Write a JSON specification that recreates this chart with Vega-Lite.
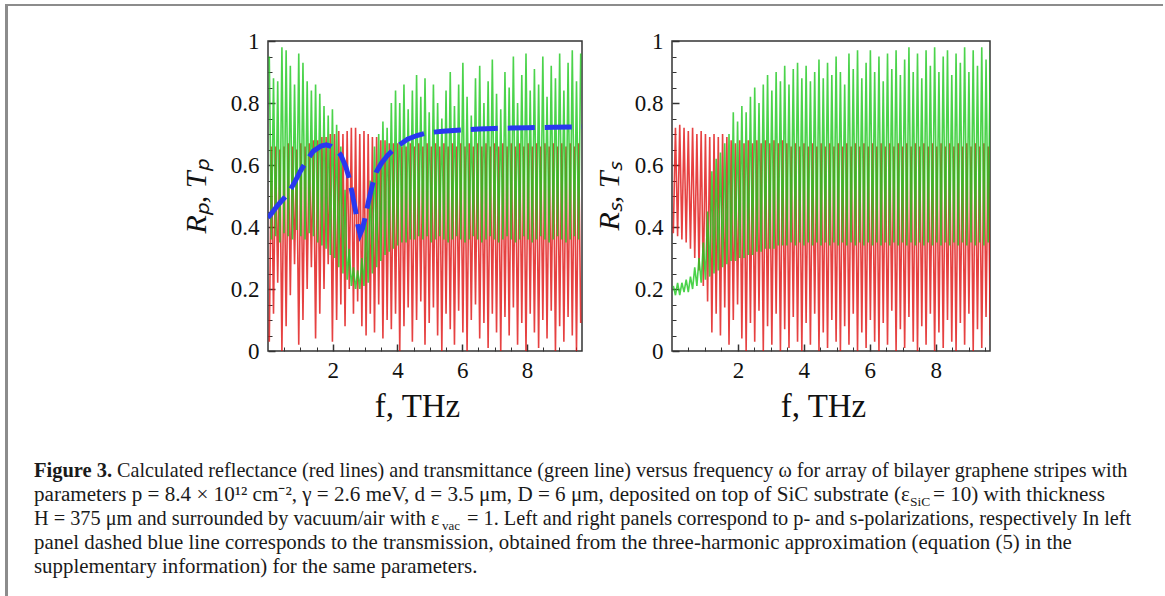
{
"$schema": "https://vega.github.io/schema/vega-lite/v6.json",
"padding": {"left": 5, "top": 4, "right": 0, "bottom": 0},
"background": "white",
"config": {"view": {"stroke": null}, "font": "Liberation Serif"},
"datasets": {
"osc": [
{"p":"L","f":0.04,"T":0.95,"R":0.03},{"p":"L","f":0.105,"T":0.36,"R":0.66},{"p":"L","f":0.17,"T":0.88,"R":0.12},{"p":"L","f":0.235,"T":0.37,"R":0.66},{"p":"L","f":0.3,"T":0.87,"R":0.22},{"p":"L","f":0.365,"T":0.35,"R":0.65},{"p":"L","f":0.43,"T":0.98,"R":0.0},{"p":"L","f":0.495,"T":0.38,"R":0.66},{"p":"L","f":0.56,"T":0.97,"R":0.08},{"p":"L","f":0.625,"T":0.37,"R":0.67},{"p":"L","f":0.69,"T":0.92,"R":0.18},{"p":"L","f":0.755,"T":0.36,"R":0.66},{"p":"L","f":0.82,"T":0.86,"R":0.28},{"p":"L","f":0.885,"T":0.39,"R":0.65},{"p":"L","f":0.95,"T":0.96,"R":0.02},{"p":"L","f":1.015,"T":0.37,"R":0.67},{"p":"L","f":1.08,"T":0.93,"R":0.1},{"p":"L","f":1.145,"T":0.36,"R":0.66},{"p":"L","f":1.21,"T":0.87,"R":0.2},{"p":"L","f":1.275,"T":0.38,"R":0.67},{"p":"L","f":1.34,"T":0.84,"R":0.27},{"p":"L","f":1.405,"T":0.37,"R":0.68},{"p":"L","f":1.47,"T":0.86,"R":0.04},{"p":"L","f":1.535,"T":0.35,"R":0.68},{"p":"L","f":1.6,"T":0.83,"R":0.12},{"p":"L","f":1.665,"T":0.34,"R":0.69},{"p":"L","f":1.73,"T":0.79,"R":0.2},{"p":"L","f":1.795,"T":0.33,"R":0.69},{"p":"L","f":1.86,"T":0.76,"R":0.28},{"p":"L","f":1.925,"T":0.31,"R":0.7},{"p":"L","f":1.99,"T":0.78,"R":0.03},{"p":"L","f":2.055,"T":0.3,"R":0.7},{"p":"L","f":2.12,"T":0.73,"R":0.1},{"p":"L","f":2.185,"T":0.27,"R":0.71},{"p":"L","f":2.25,"T":0.66,"R":0.15},{"p":"L","f":2.315,"T":0.25,"R":0.7},{"p":"L","f":2.38,"T":0.52,"R":0.08},{"p":"L","f":2.445,"T":0.23,"R":0.71},{"p":"L","f":2.51,"T":0.33,"R":0.2},{"p":"L","f":2.575,"T":0.21,"R":0.72},{"p":"L","f":2.64,"T":0.27,"R":0.12},{"p":"L","f":2.705,"T":0.2,"R":0.72},{"p":"L","f":2.77,"T":0.26,"R":0.16},{"p":"L","f":2.835,"T":0.2,"R":0.7},{"p":"L","f":2.9,"T":0.3,"R":0.08},{"p":"L","f":2.965,"T":0.21,"R":0.71},{"p":"L","f":3.03,"T":0.42,"R":0.05},{"p":"L","f":3.095,"T":0.22,"R":0.7},{"p":"L","f":3.16,"T":0.55,"R":0.12},{"p":"L","f":3.225,"T":0.25,"R":0.69},{"p":"L","f":3.29,"T":0.66,"R":0.06},{"p":"L","f":3.355,"T":0.27,"R":0.69},{"p":"L","f":3.42,"T":0.7,"R":0.15},{"p":"L","f":3.485,"T":0.29,"R":0.68},{"p":"L","f":3.55,"T":0.74,"R":0.04},{"p":"L","f":3.615,"T":0.31,"R":0.68},{"p":"L","f":3.68,"T":0.72,"R":0.1},{"p":"L","f":3.745,"T":0.32,"R":0.67},{"p":"L","f":3.81,"T":0.8,"R":0.07},{"p":"L","f":3.875,"T":0.33,"R":0.67},{"p":"L","f":3.94,"T":0.84,"R":0.12},{"p":"L","f":4.005,"T":0.34,"R":0.67},{"p":"L","f":4.07,"T":0.8,"R":0.0},{"p":"L","f":4.135,"T":0.35,"R":0.66},{"p":"L","f":4.2,"T":0.86,"R":0.08},{"p":"L","f":4.265,"T":0.35,"R":0.66},{"p":"L","f":4.33,"T":0.78,"R":0.14},{"p":"L","f":4.395,"T":0.36,"R":0.67},{"p":"L","f":4.46,"T":0.84,"R":0.03},{"p":"L","f":4.525,"T":0.36,"R":0.66},{"p":"L","f":4.59,"T":0.89,"R":0.1},{"p":"L","f":4.655,"T":0.37,"R":0.67},{"p":"L","f":4.72,"T":0.82,"R":0.16},{"p":"L","f":4.785,"T":0.36,"R":0.66},{"p":"L","f":4.85,"T":0.88,"R":0.02},{"p":"L","f":4.915,"T":0.37,"R":0.67},{"p":"L","f":4.98,"T":0.77,"R":0.09},{"p":"L","f":5.045,"T":0.35,"R":0.66},{"p":"L","f":5.11,"T":0.86,"R":0.14},{"p":"L","f":5.175,"T":0.36,"R":0.67},{"p":"L","f":5.24,"T":0.8,"R":0.05},{"p":"L","f":5.305,"T":0.37,"R":0.66},{"p":"L","f":5.37,"T":0.75,"R":0.0},{"p":"L","f":5.435,"T":0.36,"R":0.67},{"p":"L","f":5.5,"T":0.84,"R":0.12},{"p":"L","f":5.565,"T":0.35,"R":0.66},{"p":"L","f":5.63,"T":0.9,"R":0.07},{"p":"L","f":5.695,"T":0.36,"R":0.67},{"p":"L","f":5.76,"T":0.79,"R":0.02},{"p":"L","f":5.825,"T":0.37,"R":0.66},{"p":"L","f":5.89,"T":0.86,"R":0.13},{"p":"L","f":5.955,"T":0.36,"R":0.67},{"p":"L","f":6.02,"T":0.93,"R":0.06},{"p":"L","f":6.085,"T":0.35,"R":0.66},{"p":"L","f":6.15,"T":0.82,"R":0.0},{"p":"L","f":6.215,"T":0.36,"R":0.67},{"p":"L","f":6.28,"T":0.76,"R":0.1},{"p":"L","f":6.345,"T":0.37,"R":0.66},{"p":"L","f":6.41,"T":0.88,"R":0.15},{"p":"L","f":6.475,"T":0.36,"R":0.67},{"p":"L","f":6.54,"T":0.92,"R":0.04},{"p":"L","f":6.605,"T":0.35,"R":0.66},{"p":"L","f":6.67,"T":0.8,"R":0.09},{"p":"L","f":6.735,"T":0.36,"R":0.67},{"p":"L","f":6.8,"T":0.87,"R":0.01},{"p":"L","f":6.865,"T":0.37,"R":0.66},{"p":"L","f":6.93,"T":0.94,"R":0.12},{"p":"L","f":6.995,"T":0.36,"R":0.67},{"p":"L","f":7.06,"T":0.83,"R":0.06},{"p":"L","f":7.125,"T":0.35,"R":0.66},{"p":"L","f":7.19,"T":0.78,"R":0.0},{"p":"L","f":7.255,"T":0.36,"R":0.67},{"p":"L","f":7.32,"T":0.9,"R":0.11},{"p":"L","f":7.385,"T":0.37,"R":0.66},{"p":"L","f":7.45,"T":0.85,"R":0.05},{"p":"L","f":7.515,"T":0.36,"R":0.67},{"p":"L","f":7.58,"T":0.95,"R":0.14},{"p":"L","f":7.645,"T":0.35,"R":0.66},{"p":"L","f":7.71,"T":0.8,"R":0.02},{"p":"L","f":7.775,"T":0.36,"R":0.67},{"p":"L","f":7.84,"T":0.89,"R":0.09},{"p":"L","f":7.905,"T":0.37,"R":0.66},{"p":"L","f":7.97,"T":0.96,"R":0.0},{"p":"L","f":8.035,"T":0.36,"R":0.67},{"p":"L","f":8.1,"T":0.84,"R":0.12},{"p":"L","f":8.165,"T":0.35,"R":0.66},{"p":"L","f":8.23,"T":0.91,"R":0.06},{"p":"L","f":8.295,"T":0.36,"R":0.67},{"p":"L","f":8.36,"T":0.86,"R":0.01},{"p":"L","f":8.425,"T":0.37,"R":0.66},{"p":"L","f":8.49,"T":0.95,"R":0.1},{"p":"L","f":8.555,"T":0.36,"R":0.67},{"p":"L","f":8.62,"T":0.82,"R":0.04},{"p":"L","f":8.685,"T":0.35,"R":0.66},{"p":"L","f":8.75,"T":0.92,"R":0.13},{"p":"L","f":8.815,"T":0.36,"R":0.67},{"p":"L","f":8.88,"T":0.88,"R":0.0},{"p":"L","f":8.945,"T":0.37,"R":0.66},{"p":"L","f":9.01,"T":0.96,"R":0.08},{"p":"L","f":9.075,"T":0.36,"R":0.67},{"p":"L","f":9.14,"T":0.84,"R":0.03},{"p":"L","f":9.205,"T":0.35,"R":0.66},{"p":"L","f":9.27,"T":0.93,"R":0.11},{"p":"L","f":9.335,"T":0.36,"R":0.67},{"p":"L","f":9.4,"T":0.97,"R":0.05},{"p":"L","f":9.465,"T":0.37,"R":0.66},{"p":"L","f":9.53,"T":0.87,"R":0.0},{"p":"L","f":9.595,"T":0.36,"R":0.67},{"p":"L","f":9.66,"T":0.96,"R":0.09},
{"p":"S","f":0.04,"T":0.21,"R":0.38},{"p":"S","f":0.105,"T":0.18,"R":0.72},{"p":"S","f":0.17,"T":0.22,"R":0.37},{"p":"S","f":0.235,"T":0.18,"R":0.73},{"p":"S","f":0.3,"T":0.22,"R":0.36},{"p":"S","f":0.365,"T":0.19,"R":0.72},{"p":"S","f":0.43,"T":0.23,"R":0.35},{"p":"S","f":0.495,"T":0.19,"R":0.71},{"p":"S","f":0.56,"T":0.24,"R":0.33},{"p":"S","f":0.625,"T":0.2,"R":0.72},{"p":"S","f":0.69,"T":0.27,"R":0.3},{"p":"S","f":0.755,"T":0.21,"R":0.7},{"p":"S","f":0.82,"T":0.3,"R":0.26},{"p":"S","f":0.885,"T":0.22,"R":0.71},{"p":"S","f":0.95,"T":0.35,"R":0.21},{"p":"S","f":1.015,"T":0.23,"R":0.7},{"p":"S","f":1.08,"T":0.45,"R":0.16},{"p":"S","f":1.145,"T":0.24,"R":0.69},{"p":"S","f":1.21,"T":0.58,"R":0.06},{"p":"S","f":1.275,"T":0.25,"R":0.7},{"p":"S","f":1.34,"T":0.62,"R":0.12},{"p":"S","f":1.405,"T":0.26,"R":0.69},{"p":"S","f":1.47,"T":0.64,"R":0.05},{"p":"S","f":1.535,"T":0.27,"R":0.7},{"p":"S","f":1.6,"T":0.67,"R":0.14},{"p":"S","f":1.665,"T":0.28,"R":0.69},{"p":"S","f":1.73,"T":0.7,"R":0.02},{"p":"S","f":1.795,"T":0.29,"R":0.68},{"p":"S","f":1.86,"T":0.77,"R":0.1},{"p":"S","f":1.925,"T":0.29,"R":0.67},{"p":"S","f":1.99,"T":0.74,"R":0.15},{"p":"S","f":2.055,"T":0.3,"R":0.68},{"p":"S","f":2.12,"T":0.79,"R":0.04},{"p":"S","f":2.185,"T":0.3,"R":0.67},{"p":"S","f":2.25,"T":0.77,"R":0.0},{"p":"S","f":2.315,"T":0.31,"R":0.68},{"p":"S","f":2.38,"T":0.82,"R":0.09},{"p":"S","f":2.445,"T":0.31,"R":0.67},{"p":"S","f":2.51,"T":0.85,"R":0.03},{"p":"S","f":2.575,"T":0.32,"R":0.68},{"p":"S","f":2.64,"T":0.8,"R":0.13},{"p":"S","f":2.705,"T":0.32,"R":0.67},{"p":"S","f":2.77,"T":0.86,"R":0.0},{"p":"S","f":2.835,"T":0.33,"R":0.68},{"p":"S","f":2.9,"T":0.89,"R":0.08},{"p":"S","f":2.965,"T":0.33,"R":0.67},{"p":"S","f":3.03,"T":0.84,"R":0.02},{"p":"S","f":3.095,"T":0.33,"R":0.68},{"p":"S","f":3.16,"T":0.9,"R":0.12},{"p":"S","f":3.225,"T":0.34,"R":0.67},{"p":"S","f":3.29,"T":0.87,"R":0.0},{"p":"S","f":3.355,"T":0.34,"R":0.68},{"p":"S","f":3.42,"T":0.92,"R":0.07},{"p":"S","f":3.485,"T":0.34,"R":0.67},{"p":"S","f":3.55,"T":0.86,"R":0.01},{"p":"S","f":3.615,"T":0.35,"R":0.66},{"p":"S","f":3.68,"T":0.91,"R":0.11},{"p":"S","f":3.745,"T":0.34,"R":0.67},{"p":"S","f":3.81,"T":0.93,"R":0.03},{"p":"S","f":3.875,"T":0.35,"R":0.66},{"p":"S","f":3.94,"T":0.88,"R":0.0},{"p":"S","f":4.005,"T":0.34,"R":0.67},{"p":"S","f":4.07,"T":0.92,"R":0.09},{"p":"S","f":4.135,"T":0.35,"R":0.66},{"p":"S","f":4.2,"T":0.87,"R":0.02},{"p":"S","f":4.265,"T":0.34,"R":0.67},{"p":"S","f":4.33,"T":0.9,"R":0.12},{"p":"S","f":4.395,"T":0.35,"R":0.66},{"p":"S","f":4.46,"T":0.94,"R":0.0},{"p":"S","f":4.525,"T":0.34,"R":0.67},{"p":"S","f":4.59,"T":0.88,"R":0.06},{"p":"S","f":4.655,"T":0.35,"R":0.66},{"p":"S","f":4.72,"T":0.93,"R":0.01},{"p":"S","f":4.785,"T":0.34,"R":0.67},{"p":"S","f":4.85,"T":0.89,"R":0.1},{"p":"S","f":4.915,"T":0.35,"R":0.66},{"p":"S","f":4.98,"T":0.95,"R":0.03},{"p":"S","f":5.045,"T":0.34,"R":0.67},{"p":"S","f":5.11,"T":0.9,"R":0.0},{"p":"S","f":5.175,"T":0.35,"R":0.66},{"p":"S","f":5.24,"T":0.86,"R":0.08},{"p":"S","f":5.305,"T":0.34,"R":0.67},{"p":"S","f":5.37,"T":0.96,"R":0.02},{"p":"S","f":5.435,"T":0.35,"R":0.66},{"p":"S","f":5.5,"T":0.91,"R":0.12},{"p":"S","f":5.565,"T":0.34,"R":0.67},{"p":"S","f":5.63,"T":0.97,"R":0.0},{"p":"S","f":5.695,"T":0.35,"R":0.66},{"p":"S","f":5.76,"T":0.88,"R":0.06},{"p":"S","f":5.825,"T":0.34,"R":0.67},{"p":"S","f":5.89,"T":0.93,"R":0.01},{"p":"S","f":5.955,"T":0.35,"R":0.66},{"p":"S","f":6.02,"T":0.97,"R":0.1},{"p":"S","f":6.085,"T":0.34,"R":0.67},{"p":"S","f":6.15,"T":0.9,"R":0.03},{"p":"S","f":6.215,"T":0.35,"R":0.66},{"p":"S","f":6.28,"T":0.95,"R":0.0},{"p":"S","f":6.345,"T":0.34,"R":0.67},{"p":"S","f":6.41,"T":0.87,"R":0.09},{"p":"S","f":6.475,"T":0.35,"R":0.66},{"p":"S","f":6.54,"T":0.96,"R":0.02},{"p":"S","f":6.605,"T":0.34,"R":0.67},{"p":"S","f":6.67,"T":0.91,"R":0.13},{"p":"S","f":6.735,"T":0.35,"R":0.66},{"p":"S","f":6.8,"T":0.97,"R":0.0},{"p":"S","f":6.865,"T":0.34,"R":0.67},{"p":"S","f":6.93,"T":0.89,"R":0.07},{"p":"S","f":6.995,"T":0.35,"R":0.66},{"p":"S","f":7.06,"T":0.94,"R":0.01},{"p":"S","f":7.125,"T":0.34,"R":0.67},{"p":"S","f":7.19,"T":0.98,"R":0.11},{"p":"S","f":7.255,"T":0.35,"R":0.66},{"p":"S","f":7.32,"T":0.9,"R":0.03},{"p":"S","f":7.385,"T":0.34,"R":0.67},{"p":"S","f":7.45,"T":0.96,"R":0.0},{"p":"S","f":7.515,"T":0.35,"R":0.66},{"p":"S","f":7.58,"T":0.88,"R":0.08},{"p":"S","f":7.645,"T":0.34,"R":0.67},{"p":"S","f":7.71,"T":0.97,"R":0.02},{"p":"S","f":7.775,"T":0.35,"R":0.66},{"p":"S","f":7.84,"T":0.92,"R":0.12},{"p":"S","f":7.905,"T":0.34,"R":0.67},{"p":"S","f":7.97,"T":0.98,"R":0.0},{"p":"S","f":8.035,"T":0.35,"R":0.66},{"p":"S","f":8.1,"T":0.9,"R":0.06},{"p":"S","f":8.165,"T":0.34,"R":0.67},{"p":"S","f":8.23,"T":0.95,"R":0.01},{"p":"S","f":8.295,"T":0.35,"R":0.66},{"p":"S","f":8.36,"T":0.97,"R":0.1},{"p":"S","f":8.425,"T":0.34,"R":0.67},{"p":"S","f":8.49,"T":0.89,"R":0.03},{"p":"S","f":8.555,"T":0.35,"R":0.66},{"p":"S","f":8.62,"T":0.96,"R":0.0},{"p":"S","f":8.685,"T":0.34,"R":0.67},{"p":"S","f":8.75,"T":0.93,"R":0.09},{"p":"S","f":8.815,"T":0.35,"R":0.66},{"p":"S","f":8.88,"T":0.98,"R":0.02},{"p":"S","f":8.945,"T":0.34,"R":0.67},{"p":"S","f":9.01,"T":0.9,"R":0.12},{"p":"S","f":9.075,"T":0.35,"R":0.66},{"p":"S","f":9.14,"T":0.97,"R":0.0},{"p":"S","f":9.205,"T":0.34,"R":0.67},{"p":"S","f":9.27,"T":0.92,"R":0.07},{"p":"S","f":9.335,"T":0.35,"R":0.66},{"p":"S","f":9.4,"T":0.98,"R":0.01},{"p":"S","f":9.465,"T":0.34,"R":0.67},{"p":"S","f":9.53,"T":0.94,"R":0.11},{"p":"S","f":9.595,"T":0.35,"R":0.66},{"p":"S","f":9.66,"T":0.97,"R":0.05}
],
"blue": [
{"f":0.0,"v":0.43},{"f":0.08,"v":0.44},{"f":0.3,"v":0.47},{"f":0.6,"v":0.505},{"f":0.8,"v":0.54},{"f":1.0,"v":0.58},{"f":1.2,"v":0.615},{"f":1.4,"v":0.645},{"f":1.63,"v":0.661},{"f":1.8,"v":0.665},{"f":1.95,"v":0.66},{"f":2.1,"v":0.65},{"f":2.25,"v":0.632},{"f":2.4,"v":0.595},{"f":2.5,"v":0.56},{"f":2.6,"v":0.51},{"f":2.7,"v":0.455},{"f":2.78,"v":0.405},{"f":2.845,"v":0.377},{"f":2.92,"v":0.395},{"f":3.0,"v":0.43},{"f":3.1,"v":0.48},{"f":3.23,"v":0.538},{"f":3.35,"v":0.578},{"f":3.5,"v":0.605},{"f":3.7,"v":0.632},{"f":3.9,"v":0.652},{"f":4.1,"v":0.668},{"f":4.31,"v":0.683},{"f":4.6,"v":0.695},{"f":4.93,"v":0.704},{"f":5.4,"v":0.709},{"f":5.96,"v":0.713},{"f":6.5,"v":0.716},{"f":6.98,"v":0.718},{"f":7.5,"v":0.719},{"f":8.02,"v":0.72},{"f":8.8,"v":0.722},{"f":9.7,"v":0.723}
],
"cap": [
{"line":1,"id":"bold","text":"Figure 3."},
{"line":1,"id":"l1b","text":"Calculated reflectance (red lines) and transmittance (green line) versus frequency ω for array of bilayer graphene stripes with"},
{"line":2,"id":"l2a","text":"parameters p = 8.4 × 10¹² cm⁻², γ = 2.6 meV, d = 3.5 μm, D = 6 μm, deposited on top of SiC substrate (ε"},
{"line":2,"id":"sub2","text":"SiC"},
{"line":2,"id":"l2c","text":"= 10) with thickness"},
{"line":3,"id":"l3a","text":"H = 375 μm and surrounded by vacuum/air with ε"},
{"line":3,"id":"sub3","text":"vac"},
{"line":3,"id":"l3c","text":"= 1. Left and right panels correspond to p- and s-polarizations, respectively In left"},
{"line":4,"id":"left","text":"panel dashed blue line corresponds to the transmission, obtained from the three-harmonic approximation (equation (5) in the"},
{"line":5,"id":"left","text":"supplementary information) for the same parameters."}
]
},
"vconcat": [
{"width": 1156.02, "height": 0.01, "data": {"values": [{}]}, "mark": {"type": "text", "text": "", "x": 0, "y": 0, "baseline": "top", "align": "left"}, "view": {"stroke": "#8c8c8c", "strokeWidth": 2}},
{"hconcat": [
{"width": 0.01, "height": 590, "data": {"values": [{}]}, "mark": {"type": "text", "text": "", "x": 0, "y": 0, "baseline": "top", "align": "left"}, "view": {"stroke": "#8c8c8c", "strokeWidth": 2}},
{"concat": [
  {"width": 261, "height": 35, "data": {"values": [{}]}, "mark": {"type": "text", "text": "", "x": 0, "y": 0, "baseline": "top", "align": "left"}},
  {"width": 314, "height": 0.01, "data": {"values": [{}]}, "mark": {"type": "text", "text": "", "x": 0, "y": 0, "baseline": "top", "align": "left"}},
  {"width": 90, "height": 0.01, "data": {"values": [{}]}, "mark": {"type": "text", "text": "", "x": 0, "y": 0, "baseline": "top", "align": "left"}},
  {"width": 318, "height": 0.01, "data": {"values": [{}]}, "mark": {"type": "text", "text": "", "x": 0, "y": 0, "baseline": "top", "align": "left"}},
  {"width": 173, "height": 0.01, "data": {"values": [{}]}, "mark": {"type": "text", "text": "", "x": 0, "y": 0, "baseline": "top", "align": "left"}},
  {"width": 261, "height": 310, "data": {"values": [{}]}, "mark": {"type": "text", "text": "", "x": 0, "y": 0, "baseline": "top", "align": "left"}},
  {"width": 314, "height": 310, "view": {"stroke": "#333333", "strokeWidth": 1.5},
     "layer": [
      {"data": {"name": "osc"}, "transform": [{"filter": "datum.p == 'L'"}],
       "mark": {"type": "line", "color": "#e01212", "strokeWidth": 1.6, "opacity": 0.8, "clip": true},
       "encoding": {
        "x": {"field": "f", "type": "quantitative", "scale": {"domain": [0, 9.7], "nice": false, "zero": false},
              "axis": {"orient": "bottom", "values": [2,4,6,8], "tickSize": -7, "tickWidth": 1.5, "tickColor": "#333333", "domain": false, "grid": false, "labelFont": "Liberation Serif", "labelFontSize": 23, "labelColor": "#111111", "labelPadding": 15, "labelOverlap": false, "labelFlush": false, "title": "f, THz", "titleFont": "Liberation Serif", "titleFontSize": 33, "titleFontWeight": "normal", "titleColor": "#111111", "titlePadding": 8, "titleX": 149}},
        "y": {"field": "R", "type": "quantitative", "scale": {"domain": [0, 1], "nice": false},
              "axis": {"orient": "left", "values": [0,0.2,0.4,0.6,0.8,1], "format": "~g", "tickSize": -7, "tickWidth": 1.5, "tickColor": "#333333", "domain": false, "grid": false, "labelFont": "Liberation Serif", "labelFontSize": 23, "labelColor": "#111111", "labelPadding": 16, "labelOverlap": false, "title": "Rₚ, Tₚ", "titleFont": "Liberation Serif", "titleFontSize": 30, "titleFontWeight": "normal", "titleFontStyle": "italic", "titleColor": "#111111", "titlePadding": 19}}
       }},
      {"data": {"name": "osc"}, "transform": [{"filter": "datum.p == 'L'"}],
       "mark": {"type": "line", "color": "#1ec81e", "strokeWidth": 1.6, "opacity": 0.8, "clip": true},
       "encoding": {
        "x": {"field": "f", "type": "quantitative", "axis": {"orient": "bottom", "values": [0.5,1,1.5,2.5,3,3.5,4.5,5,5.5,6.5,7,7.5,8.5,9,9.5], "tickSize": -4, "tickWidth": 1, "tickColor": "#333333", "domain": false, "grid": false, "labels": false, "title": null}},
        "y": {"field": "T", "type": "quantitative", "axis": {"orient": "left", "values": [0.05,0.1,0.15,0.25,0.3,0.35,0.45,0.5,0.55,0.65,0.7,0.75,0.85,0.9,0.95], "tickSize": -4, "tickWidth": 1, "tickColor": "#333333", "domain": false, "grid": false, "labels": false, "title": null}}
       }},
      {"data": {"name": "blue"},
       "mark": {"type": "line", "color": "#2838f0", "strokeWidth": 5, "strokeDash": [27, 10], "clip": true},
       "encoding": {
        "x": {"field": "f", "type": "quantitative", "axis": null},
        "y": {"field": "v", "type": "quantitative", "axis": null}
       }}
     ],
     "resolve": {"axis": {"x": "independent", "y": "independent"}}
  },
  {"width": 90, "height": 310, "data": {"values": [{}]}, "mark": {"type": "text", "text": "", "x": 0, "y": 0, "baseline": "top", "align": "left"}},
  {"width": 318, "height": 310, "view": {"stroke": "#333333", "strokeWidth": 1.5},
     "layer": [
      {"data": {"name": "osc"}, "transform": [{"filter": "datum.p == 'S'"}],
       "mark": {"type": "line", "color": "#e01212", "strokeWidth": 1.6, "opacity": 0.8, "clip": true},
       "encoding": {
        "x": {"field": "f", "type": "quantitative", "scale": {"domain": [0, 9.65], "nice": false, "zero": false},
              "axis": {"orient": "bottom", "values": [2,4,6,8], "tickSize": -7, "tickWidth": 1.5, "tickColor": "#333333", "domain": false, "grid": false, "labelFont": "Liberation Serif", "labelFontSize": 23, "labelColor": "#111111", "labelPadding": 15, "labelOverlap": false, "labelFlush": false, "title": "f, THz", "titleFont": "Liberation Serif", "titleFontSize": 33, "titleFontWeight": "normal", "titleColor": "#111111", "titlePadding": 8, "titleX": 151}},
        "y": {"field": "R", "type": "quantitative", "scale": {"domain": [0, 1], "nice": false},
              "axis": {"orient": "left", "values": [0,0.2,0.4,0.6,0.8,1], "format": "~g", "tickSize": -7, "tickWidth": 1.5, "tickColor": "#333333", "domain": false, "grid": false, "labelFont": "Liberation Serif", "labelFontSize": 23, "labelColor": "#111111", "labelPadding": 16, "labelOverlap": false, "title": "Rₛ, Tₛ", "titleFont": "Liberation Serif", "titleFontSize": 30, "titleFontWeight": "normal", "titleFontStyle": "italic", "titleColor": "#111111", "titlePadding": 10}}
       }},
      {"data": {"name": "osc"}, "transform": [{"filter": "datum.p == 'S'"}],
       "mark": {"type": "line", "color": "#1ec81e", "strokeWidth": 1.6, "opacity": 0.8, "clip": true},
       "encoding": {
        "x": {"field": "f", "type": "quantitative", "axis": {"orient": "bottom", "values": [0.5,1,1.5,2.5,3,3.5,4.5,5,5.5,6.5,7,7.5,8.5,9,9.5], "tickSize": -4, "tickWidth": 1, "tickColor": "#333333", "domain": false, "grid": false, "labels": false, "title": null}},
        "y": {"field": "T", "type": "quantitative", "axis": {"orient": "left", "values": [0.05,0.1,0.15,0.25,0.3,0.35,0.45,0.5,0.55,0.65,0.7,0.75,0.85,0.9,0.95], "tickSize": -4, "tickWidth": 1, "tickColor": "#333333", "domain": false, "grid": false, "labels": false, "title": null}}
       }}
     ],
     "resolve": {"axis": {"x": "independent", "y": "independent"}}
  },
  {"width": 173, "height": 0.01, "data": {"values": [{}]}, "mark": {"type": "text", "text": "", "x": 0, "y": 0, "baseline": "top", "align": "left"}},
  {"width": 1, "height": 246, "data": {"name": "cap"},
   "encoding": {"y": {"field": "line", "type": "quantitative", "scale": {"domain": [-4.25, 6], "reverse": true, "nice": false, "zero": false}, "axis": null}},
   "layer": [
    {"transform": [{"filter": "datum.id == 'bold'"}], "mark": {"type": "text", "x": 27, "align": "left", "baseline": "alphabetic", "font": "Liberation Serif", "fontSize": 20.5, "fontWeight": "bold", "color": "#1a1a1a"}, "encoding": {"text": {"field": "text"}}},
    {"transform": [{"filter": "datum.id == 'l1b'"}], "mark": {"type": "text", "x": 110, "align": "left", "baseline": "alphabetic", "font": "Liberation Serif", "fontSize": 20.2, "color": "#1a1a1a"}, "encoding": {"text": {"field": "text"}}},
    {"transform": [{"filter": "datum.id == 'l2a'"}], "mark": {"type": "text", "x": 27, "align": "left", "baseline": "alphabetic", "font": "Liberation Serif", "fontSize": 21.1, "color": "#1a1a1a"}, "encoding": {"text": {"field": "text"}}},
    {"transform": [{"filter": "datum.id == 'sub2'"}], "mark": {"type": "text", "x": 903, "dy": 5, "align": "left", "baseline": "alphabetic", "font": "Liberation Serif", "fontSize": 13.5, "color": "#1a1a1a"}, "encoding": {"text": {"field": "text"}}},
    {"transform": [{"filter": "datum.id == 'l2c'"}], "mark": {"type": "text", "x": 926, "align": "left", "baseline": "alphabetic", "font": "Liberation Serif", "fontSize": 21.1, "color": "#1a1a1a"}, "encoding": {"text": {"field": "text"}}},
    {"transform": [{"filter": "datum.id == 'l3a'"}], "mark": {"type": "text", "x": 27, "align": "left", "baseline": "alphabetic", "font": "Liberation Serif", "fontSize": 20.3, "color": "#1a1a1a"}, "encoding": {"text": {"field": "text"}}},
    {"transform": [{"filter": "datum.id == 'sub3'"}], "mark": {"type": "text", "x": 435, "dy": 5, "align": "left", "baseline": "alphabetic", "font": "Liberation Serif", "fontSize": 13, "color": "#1a1a1a"}, "encoding": {"text": {"field": "text"}}},
    {"transform": [{"filter": "datum.id == 'l3c'"}], "mark": {"type": "text", "x": 460, "align": "left", "baseline": "alphabetic", "font": "Liberation Serif", "fontSize": 20.3, "color": "#1a1a1a"}, "encoding": {"text": {"field": "text"}}},
    {"transform": [{"filter": "datum.id == 'left'"}], "mark": {"type": "text", "x": 27, "align": "left", "baseline": "alphabetic", "font": "Liberation Serif", "fontSize": 20.85, "color": "#1a1a1a"}, "encoding": {"text": {"field": "text"}}}
   ]
  }
], "columns": 5, "spacing": 0, "bounds": "flush", "align": "each"},
{"width": 0.01, "height": 590, "data": {"values": [{}]}, "mark": {"type": "text", "text": "", "x": 0, "y": 0, "baseline": "top", "align": "left"}, "view": {"stroke": "#8c8c8c", "strokeWidth": 2}}
], "spacing": 0, "bounds": "flush", "align": "each"}
],
"spacing": 0,
"bounds": "flush",
"align": "each"
}
